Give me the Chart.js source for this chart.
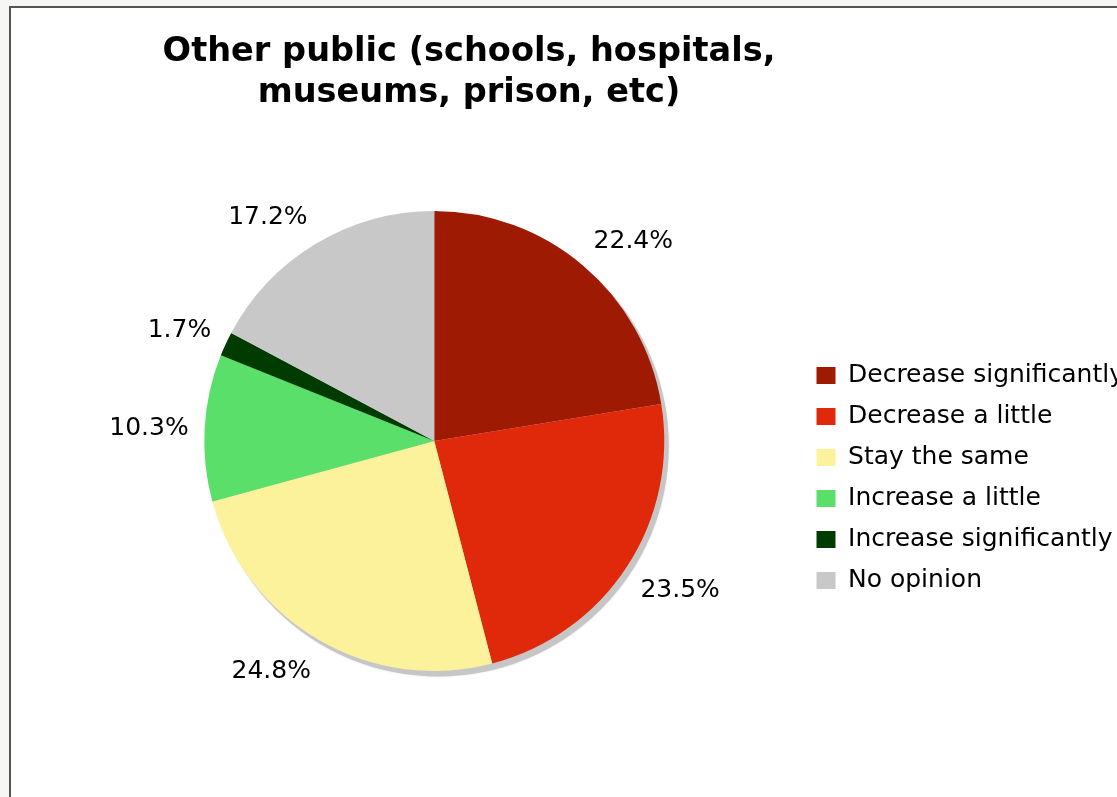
<!DOCTYPE html>
<html>
<head>
<meta charset="utf-8">
<title>Other public</title>
<script src="https://cdn.jsdelivr.net/npm/chart.js@4.4.0/dist/chart.umd.min.js"></script>
<style>
  html, body { margin: 0; padding: 0; background: #f6f6f4; overflow: hidden; width: 1117px; height: 797px; }
  #frame {
    position: absolute; left: 9px; top: 6px; width: 1200px; height: 900px;
    border-left: 2px solid #555; border-top: 2px solid #555; background: #fff;
  }
  #title {
    position: absolute; left: 0; top: 29px; width: 938px;
    text-align: center; color: #000;
    font: bold 33.6px "DejaVu Sans", Verdana, sans-serif; line-height: 41px;
  }
  #chart-wrap { position: absolute; left: 0; top: 0; width: 1134px; height: 797px; }
</style>
</head>
<body>
<div id="frame"></div>
<div id="chart-wrap"><canvas id="pieChart"></canvas></div>
<div id="title">Other public (schools, hospitals,<br>museums, prison, etc)</div>

<script>
const categories = [
  "Decrease significantly",
  "Decrease a little",
  "Stay the same",
  "Increase a little",
  "Increase significantly",
  "No opinion"
];
const percentages = [22.4, 23.5, 24.8, 10.3, 1.7, 17.2];
const sliceColors = ["#9f1a02", "#e0290b", "#fdf29c", "#5ae06a", "#003c00", "#c8c8c8"];

const fontFamily = '"DejaVu Sans", Verdana, sans-serif';

// grey drop shadow under the pie
const pieShadow = {
  id: "pieShadow",
  beforeDatasetsDraw(chart) {
    const arc = chart.getDatasetMeta(0).data[0];
    if (!arc) return;
    const ctx = chart.ctx;
    ctx.save();
    ctx.fillStyle = "#c6c6c6";
    ctx.shadowColor = "rgba(0,0,0,0.15)";
    ctx.shadowBlur = 2;
    ctx.beginPath();
    ctx.arc(arc.x + 4, arc.y + 5, arc.outerRadius + 0.5, 0, Math.PI * 2);
    ctx.fill();
    ctx.restore();
  }
};

// percentage labels outside each slice, pushed away from the rim
// along the slice's middle angle
const outsideLabels = {
  id: "outsideLabels",
  afterDatasetsDraw(chart) {
    const ctx = chart.ctx;
    const meta = chart.getDatasetMeta(0);
    const capH = 18.5;
    const clamp = v => Math.max(-1, Math.min(1, v));
    ctx.save();
    ctx.font = "25px " + fontFamily;
    ctx.fillStyle = "#000";
    ctx.textAlign = "left";
    ctx.textBaseline = "alphabetic";
    meta.data.forEach((arc, i) => {
      const text = percentages[i].toFixed(1) + "%";
      const mid = (arc.startAngle + arc.endAngle) / 2;
      const cos = Math.cos(mid), sin = Math.sin(mid);
      const r = arc.outerRadius + 16;
      const w = ctx.measureText(text).width;
      const cx = arc.x + cos * r + clamp(cos * 3) * w / 2;
      const cy = arc.y + sin * r + clamp(sin * 1.5) * 15;
      ctx.fillText(text, cx - w / 2, cy + capH / 2);
    });
    ctx.restore();
  }
};

// move legend column down next to the pie
const legendShift = {
  id: "legendShift",
  afterLayout(chart) {
    chart.legend.top += 37;
    chart.legend.bottom += 37;
  }
};

new Chart(document.getElementById("pieChart"), {
  type: "pie",
  data: {
    labels: categories,
    datasets: [{
      data: percentages,
      backgroundColor: sliceColors,
      borderWidth: 0
    }]
  },
  options: {
    responsive: true,
    maintainAspectRatio: false,
    animation: false,
    layout: { padding: { left: 68, top: 211, bottom: 126, right: 0 } },
    plugins: {
      legend: {
        position: "right",
        labels: {
          boxWidth: 19,
          boxHeight: 17,
          padding: 16,
          color: "#000",
          font: { family: fontFamily, size: 25 }
        }
      },
      tooltip: { enabled: false }
    }
  },
  plugins: [pieShadow, outsideLabels, legendShift]
});
</script>
</body>
</html>
